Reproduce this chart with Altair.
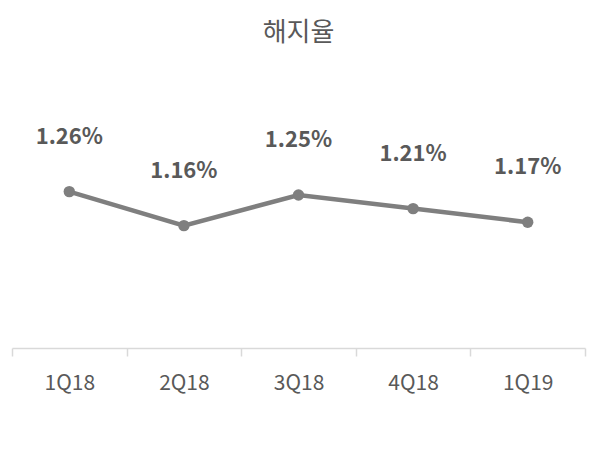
import altair as alt
import pandas as pd

quarters = ["1Q18", "2Q18", "3Q18", "4Q18", "1Q19"]
rates = [1.26, 1.16, 1.25, 1.21, 1.17]
labels = ["1.26%", "1.16%", "1.25%", "1.21%", "1.17%"]

df = pd.DataFrame({"q": quarters, "v": rates, "lab": labels})

FONT = "Noto Sans CJK KR"
x = alt.X("q:N", sort=quarters, title=None,
          scale=alt.Scale(type="band", paddingInner=0, paddingOuter=0),
          axis=alt.Axis(labelAngle=0, labelFont=FONT, labelFontSize=21,
                        labelFontWeight="normal",
                        labelColor="#595959", labelPadding=16,
                        domainColor="#d9d9d9", domainWidth=1.5,
                        tickColor="#d9d9d9", tickWidth=1.5, tickSize=8,
                        tickBand="extent", grid=False))
y = alt.Y("v:Q", scale=alt.Scale(domain=[0.8, 1.6], nice=False, zero=False), axis=None)

base = alt.Chart(df).encode(x=x, y=y)
line = base.mark_line(color="#7f7f7f", strokeWidth=4.5)
pts = base.mark_circle(color="#7f7f7f", size=130, opacity=1)
txt = base.mark_text(dy=-55, font=FONT, fontSize=22, fontWeight="bold",
                     color="#595959").encode(text="lab:N")

chart = (line + pts + txt).properties(
    width=573, height=272,
    autosize=alt.AutoSizeParams(type="none"),
    padding={"left": 4, "top": 68, "right": 13, "bottom": 97},
    title=alt.TitleParams("해지율", font=FONT, fontSize=26, fontWeight="normal",
                          color="#595959", anchor="middle", offset=30),
).configure_view(stroke=None)

chart.save("out.html", embed_options={"renderer": "svg", "actions": False})
